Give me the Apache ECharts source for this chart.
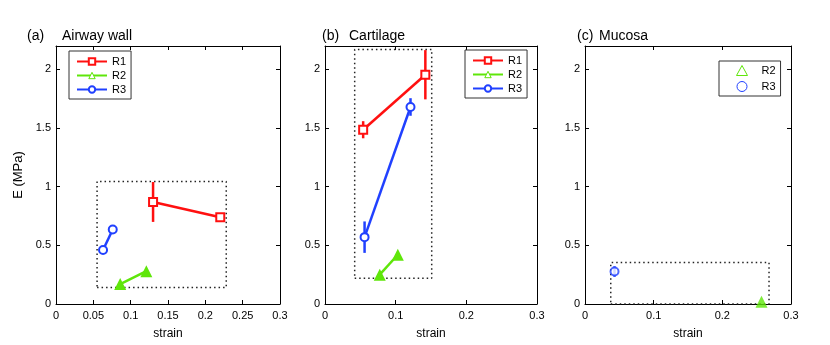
<!DOCTYPE html>
<html>
<head>
<meta charset="utf-8">
<script src="https://cdn.jsdelivr.net/npm/echarts@6/dist/echarts.min.js"></script>
<style>
  html, body { margin: 0; padding: 0; background: #fff; }
  #chart { width: 830px; height: 345px; }
</style>
</head>
<body>
<div id="chart"></div>
<script>
// ---- data (strain, E in MPa, error half-width) ----
// (a) Airway wall
const wallR1X = [0.130, 0.220];
const wallR1Y = [0.87, 0.74];
const wallR1E = [0.17, 0.0];
const wallR2X = [0.086, 0.121];
const wallR2Y = [0.17, 0.28];
const wallR3X = [0.063, 0.076];
const wallR3Y = [0.46, 0.636];
const wallBoxX = [0.055, 0.228];
const wallBoxY = [0.14, 1.045];

// (b) Cartilage
const cartR1X = [0.054, 0.142];
const cartR1Y = [1.486, 1.955];
const cartR1E = [0.073, 0.21];
const cartR2X = [0.0775, 0.103];
const cartR2Y = [0.25, 0.42];
const cartR3X = [0.056, 0.121];
const cartR3Y = [0.57, 1.68];
const cartR3E = [0.134, 0.075];
const cartBoxX = [0.042, 0.151];
const cartBoxY = [0.22, 2.17];

// (c) Mucosa
const mucR2X = [0.257];
const mucR2Y = [0.02];
const mucR3X = [0.043];
const mucR3Y = [0.277];
const mucR3E = [0.045];
const mucBoxX = [0.0375, 0.268];
const mucBoxY = [0.0, 0.353];

const panelTags = ['(a)', '(b)', '(c)'];
const panelNames = ['Airway wall', 'Cartilage', 'Mucosa'];
const yTicks = [0, 0.5, 1, 1.5, 2];

const RED = '#ff1010';
const GREEN = '#5fe60a';
const BLUE = '#2040ff';
const FONT = 'Liberation Sans, Arial, Helvetica, sans-serif';

function pts(xs, ys) { return xs.map((x, i) => [x, ys[i]]); }
function errPts(xs, ys, es) { return xs.map((x, i) => [x, ys[i], es[i]]); }
function boxPts(bx, by) {
  return [[bx[0], by[0]], [bx[1], by[0]], [bx[1], by[1]], [bx[0], by[1]], [bx[0], by[0]]];
}

let grids = [
  {left: 56, top: 46, width: 224, height: 260},
  {left: 325, top: 46, width: 212, height: 260},
  {left: 585, top: 46, width: 206, height: 260}
];
let xIntervals = [0.05, 0.1, 0.1];

let xAxes = [], yAxes = [];
grids.forEach(function (g, i) {
  let base = {
    gridIndex: i, type: 'value', min: 0, max: 0.3, interval: xIntervals[i],
    axisLine: {onZero: false, lineStyle: {color: '#000', width: 1}},
    axisTick: {inside: true, length: 4, lineStyle: {color: '#000'}},
    splitLine: {show: false}
  };
  xAxes.push(Object.assign({}, base, {
    position: 'bottom',
    name: 'strain', nameLocation: 'middle', nameGap: 24,
    nameTextStyle: {fontFamily: FONT, fontSize: 12, color: '#000'},
    axisLabel: {fontFamily: FONT, fontSize: 11, color: '#000', margin: 6}
  }));
  xAxes.push(Object.assign({}, base, {position: 'top', axisLabel: {show: false}}));
  let ybase = {
    gridIndex: i, type: 'value', min: 0, max: 2.2, interval: 0.5,
    axisLine: {onZero: false, lineStyle: {color: '#000', width: 1}},
    axisTick: {inside: true, length: 4, lineStyle: {color: '#000'}},
    splitLine: {show: false}
  };
  yAxes.push(Object.assign({}, ybase, {
    position: 'left',
    name: i === 0 ? 'E (MPa)' : '', nameLocation: 'middle', nameGap: 31,
    nameTextStyle: {fontFamily: FONT, fontSize: 13, color: '#000'},
    axisLabel: {
      fontFamily: FONT, fontSize: 11, color: '#000', margin: 5,
      showMaxLabel: false,
      formatter: function (v) { return yTicks.indexOf(v) >= 0 ? String(v) : ''; }
    }
  }));
  yAxes.push(Object.assign({}, ybase, {position: 'right', axisLabel: {show: false}}));
});

function boxSeries(i, bx, by) {
  return {
    type: 'line', xAxisIndex: 2 * i, yAxisIndex: 2 * i, data: boxPts(bx, by),
    symbol: 'none', silent: true, z: 1,
    lineStyle: {color: '#222', width: 1.5, type: [1.5, 3]}
  };
}
function lineSeries(i, name, color, sym, size, xs, ys) {
  return {
    name: name, type: 'line', xAxisIndex: 2 * i, yAxisIndex: 2 * i,
    data: pts(xs, ys), symbol: sym, symbolSize: size, z: 3,
    itemStyle: {color: color, borderWidth: 2.5},
    lineStyle: {color: color, width: 2.5}
  };
}
function errSeries(i, color, xs, ys, es) {
  return {
    type: 'custom', xAxisIndex: 2 * i, yAxisIndex: 2 * i, z: 2, silent: true,
    data: errPts(xs, ys, es),
    renderItem: function (params, api) {
      let x = api.value(0), y = api.value(1), e = api.value(2);
      let p1 = api.coord([x, y - e]);
      let p2 = api.coord([x, y + e]);
      return {type: 'line', shape: {x1: p1[0], y1: p1[1], x2: p2[0], y2: p2[1]},
        style: {stroke: color, lineWidth: 2.5}};
    }
  };
}

let series = [
  boxSeries(0, wallBoxX, wallBoxY),
  lineSeries(0, 'R1', RED, 'emptyRect', 8, wallR1X, wallR1Y),
  lineSeries(0, 'R2', GREEN, 'triangle', 12, wallR2X, wallR2Y),
  lineSeries(0, 'R3', BLUE, 'emptyCircle', 8, wallR3X, wallR3Y),
  errSeries(0, RED, wallR1X, wallR1Y, wallR1E),

  boxSeries(1, cartBoxX, cartBoxY),
  lineSeries(1, 'R1', RED, 'emptyRect', 8, cartR1X, cartR1Y),
  lineSeries(1, 'R2', GREEN, 'triangle', 12, cartR2X, cartR2Y),
  lineSeries(1, 'R3', BLUE, 'emptyCircle', 8, cartR3X, cartR3Y),
  errSeries(1, RED, cartR1X, cartR1Y, cartR1E),
  errSeries(1, BLUE, cartR3X, cartR3Y, cartR3E),

  boxSeries(2, mucBoxX, mucBoxY),
  {name: 'R2', type: 'scatter', xAxisIndex: 4, yAxisIndex: 4, z: 3,
    data: pts(mucR2X, mucR2Y), symbol: 'triangle', symbolSize: 12,
    itemStyle: {color: GREEN}},
  {name: 'R3', type: 'scatter', xAxisIndex: 4, yAxisIndex: 4, z: 3,
    data: pts(mucR3X, mucR3Y), symbol: 'emptyCircle', symbolSize: 8,
    itemStyle: {color: BLUE, borderWidth: 2.5}},
  errSeries(2, BLUE, mucR3X, mucR3Y, mucR3E)
];

let legendBase = {
  orient: 'vertical', backgroundColor: '#fff', borderColor: '#333', borderWidth: 1,
  borderRadius: 0, itemWidth: 30, itemHeight: 8, itemGap: 3, padding: [5, 5, 4, 7],
  selectedMode: false,
  textStyle: {fontFamily: FONT, fontSize: 11, color: '#000'},
  lineStyle: {width: 2}
};
// empty symbols take their stroke from color, filled ones need a white fill
let lineLegendData = [
  {name: 'R1', itemStyle: {color: RED, borderColor: RED, borderWidth: 1}},
  {name: 'R2', itemStyle: {color: '#fff', borderColor: GREEN, borderWidth: 1}},
  {name: 'R3', itemStyle: {color: BLUE, borderColor: BLUE, borderWidth: 1}}
];

let titles = [];
let tagLeft = [22, 317, 572], nameLeft = [57, 344, 594];
panelTags.forEach(function (t, i) {
  titles.push({text: t, left: tagLeft[i], top: 24, textStyle: {fontFamily: FONT, fontSize: 14, fontWeight: 'normal', color: '#000'}});
  titles.push({text: panelNames[i], left: nameLeft[i], top: 24, textStyle: {fontFamily: FONT, fontSize: 14, fontWeight: 'normal', color: '#000'}});
});

let chart = echarts.init(document.getElementById('chart'), null, {renderer: 'canvas'});
chart.setOption({
  animation: false,
  backgroundColor: '#fff',
  title: titles,
  grid: grids,
  xAxis: xAxes,
  yAxis: yAxes,
  legend: [
    Object.assign({}, legendBase, {left: 69, top: 51, data: lineLegendData}),
    Object.assign({}, legendBase, {left: 465, top: 50, data: lineLegendData}),
    Object.assign({}, legendBase, {
      left: 719, top: 61, itemWidth: 11, itemHeight: 10, itemGap: 5, padding: [4, 5, 4, 17],
      textStyle: {fontFamily: FONT, fontSize: 11, color: '#000', padding: [0, 0, 0, 9]},
      data: [
        {name: 'R2', icon: 'triangle', itemStyle: {color: '#fff', borderColor: GREEN, borderWidth: 1}},
        {name: 'R3', icon: 'circle', itemStyle: {color: '#fff', borderColor: BLUE, borderWidth: 1}}
      ]
    })
  ],
  series: series
});
</script>
</body>
</html>
